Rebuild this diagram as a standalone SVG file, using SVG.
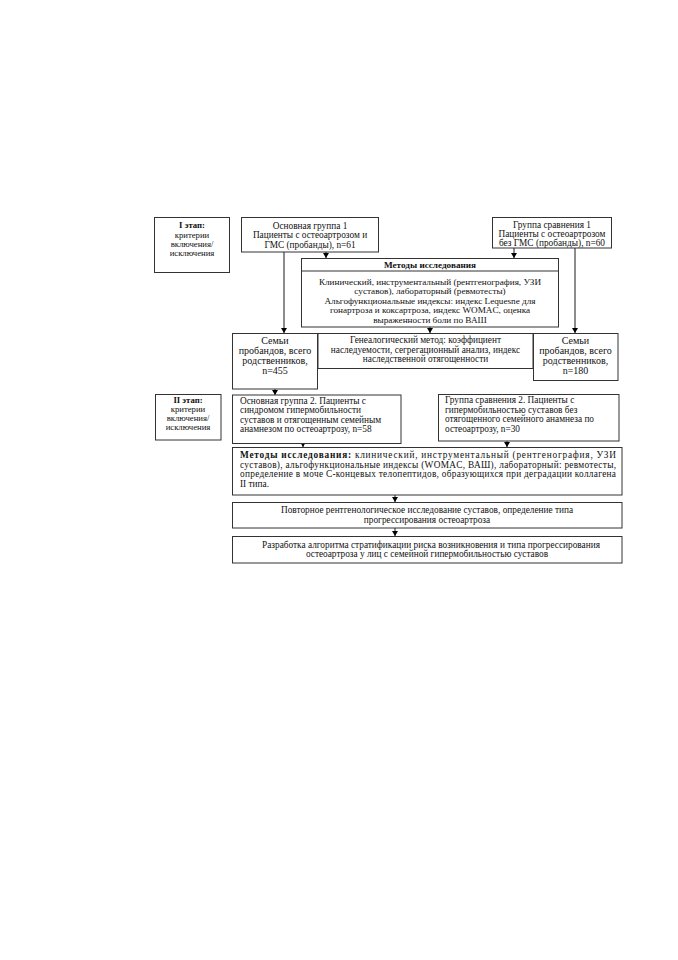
<svg xmlns="http://www.w3.org/2000/svg" width="678" height="960" viewBox="0 0 678 960">
<defs>
<marker id="ah" markerUnits="userSpaceOnUse" markerWidth="6" markerHeight="6" refX="5" refY="3" orient="auto">
<path d="M0,0 L5,3 L0,6 Z" fill="#000"/>
</marker>
<style>
.b{fill:#fff;stroke:#333;stroke-width:1}
.t{font-family:"Liberation Serif","Times New Roman",serif;font-size:9.3px;fill:#111}
.s{font-size:8.7px}
.m{font-size:9.2px}
.f{font-size:10px}
.c{text-anchor:middle}
.bold{font-weight:bold}
.ln{stroke:#000;stroke-width:0.9;fill:none;marker-end:url(#ah)}
</style>
</defs>
<rect width="678" height="960" fill="#fff"/>

<g id="connectors">
<line class="ln" x1="284" y1="252" x2="284" y2="333"/>
<line class="ln" x1="326" y1="252" x2="326" y2="258"/>
<line class="ln" x1="514" y1="248" x2="514" y2="258"/>
<line class="ln" x1="575" y1="248" x2="575" y2="333"/>
<line class="ln" x1="430" y1="327" x2="430" y2="333"/>
<line class="ln" x1="275" y1="389" x2="275" y2="395"/>
<line class="ln" x1="303" y1="443" x2="303" y2="447"/>
<line class="ln" x1="507" y1="441" x2="507" y2="447"/>
<line class="ln" x1="395" y1="495" x2="395" y2="502"/>
<line class="ln" x1="395" y1="528" x2="395" y2="536"/>
</g>

<g id="stage1">
<rect class="b" x="154.5" y="217.5" width="75" height="55"/>
<text class="t s c bold" x="192" y="228">I этап:</text>
<text class="t s c" x="192" y="238">критерии</text>
<text class="t s c" x="192" y="247">включения/</text>
<text class="t s c" x="192" y="256">исключения</text>
</g>

<g id="main1">
<rect class="b" x="241.5" y="217.5" width="137" height="34.5"/>
<text class="t c" x="310" y="228.5">Основная группа 1</text>
<text class="t c" x="310" y="238">Пациенты с остеоартрозом и</text>
<text class="t c" x="310" y="247.5">ГМС (пробанды), n=61</text>
</g>

<g id="comp1">
<rect class="b" x="492.5" y="217.5" width="119" height="30.5"/>
<text class="t c" x="552" y="227.5">Группа сравнения 1</text>
<text class="t c" x="552" y="236.5">Пациенты с остеоартрозом</text>
<text class="t c" x="552" y="245.5">без ГМС (пробанды), n=60</text>
</g>

<g id="methods1">
<rect class="b" x="301.5" y="258.5" width="257" height="68.5"/>
<line x1="301.5" y1="271" x2="558.5" y2="271" stroke="#333" stroke-width="1"/>
<text class="t m c bold" x="430" y="268">Методы исследования</text>
<text class="t m c" x="430" y="284.5">Клинический, инструментальный (рентгенография, УЗИ</text>
<text class="t m c" x="430" y="294">суставов), лабораторный (ревмотесты)</text>
<text class="t m c" x="430" y="303.5">Альгофункциональные индексы: индекс Lequesne для</text>
<text class="t m c" x="430" y="313">гонартроза и коксартроза, индекс WOMAC, оценка</text>
<text class="t m c" x="430" y="322.5">выраженности боли по ВАШ</text>
</g>

<g id="genealog">
<rect class="b" x="318" y="333.5" width="215" height="35"/>
<text class="t c" x="425.5" y="343">Генеалогический метод: коэффициент</text>
<text class="t c" x="425.5" y="352.5">наследуемости, сегрегационный анализ, индекс</text>
<text class="t c" x="425.5" y="362">наследственной отягощенности</text>
</g>

<g id="families1">
<rect class="b" x="232.5" y="333.5" width="85" height="55.5"/>
<text class="t f c" x="275" y="344">Семьи</text>
<text class="t f c" x="275" y="354">пробандов, всего</text>
<text class="t f c" x="275" y="364">родственников,</text>
<text class="t f c" x="275" y="374">n=455</text>
</g>

<g id="families2">
<rect class="b" x="533.5" y="333.5" width="84.5" height="47"/>
<text class="t f c" x="575.5" y="344">Семьи</text>
<text class="t f c" x="575.5" y="354">пробандов, всего</text>
<text class="t f c" x="575.5" y="364">родственников,</text>
<text class="t f c" x="575.5" y="374">n=180</text>
</g>

<g id="stage2">
<rect class="b" x="155.5" y="394.5" width="65.5" height="45.5"/>
<text class="t s c bold" x="188" y="403">II этап:</text>
<text class="t s c" x="188" y="412">критерии</text>
<text class="t s c" x="188" y="421">включения/</text>
<text class="t s c" x="188" y="430">исключения</text>
</g>

<g id="main2">
<rect class="b" x="232.5" y="395" width="168.5" height="48.5"/>
<text class="t" x="240" y="403.5">Основная группа 2. Пациенты с</text>
<text class="t" x="240" y="413">синдромом гипермобильности</text>
<text class="t" x="240" y="422.5">суставов и отягощенным семейным</text>
<text class="t" x="240" y="432">анамнезом по остеоартрозу, n=58</text>
</g>

<g id="comp2">
<rect class="b" x="438.5" y="394.5" width="180.5" height="46.5"/>
<text class="t" x="445" y="403">Группа сравнения 2. Пациенты с</text>
<text class="t" x="445" y="412.5">гипермобильностью суставов без</text>
<text class="t" x="445" y="422">отягощенного семейного анамнеза по</text>
<text class="t" x="445" y="431.5">остеоартрозу, n=30</text>
</g>

<g id="methods2">
<rect class="b" x="232.5" y="447.5" width="389.5" height="47.5"/>
<text class="t" x="240" y="458" textLength="376" lengthAdjust="spacing"><tspan class="bold">Методы исследования:</tspan> клинический, инструментальный (рентгенография, УЗИ</text>
<text class="t" x="240" y="467.5" textLength="376" lengthAdjust="spacing">суставов), альгофункциональные индексы (WOMAC, ВАШ), лабораторный: ревмотесты,</text>
<text class="t" x="240" y="477" textLength="376" lengthAdjust="spacing">определение в моче С-концевых телопептидов, образующихся при деградации коллагена</text>
<text class="t" x="240" y="486.5">II типа.</text>
</g>

<g id="xray">
<rect class="b" x="232.5" y="502.5" width="389.5" height="25.5"/>
<text class="t c" x="427" y="513">Повторное рентгенологическое исследование суставов, определение типа</text>
<text class="t c" x="427" y="522.5">прогрессирования остеоартроза</text>
</g>

<g id="algorithm">
<rect class="b" x="232.5" y="536.5" width="389.5" height="26.5"/>
<text class="t c" x="431" y="547.5">Разработка алгоритма стратификации риска возникновения и типа прогрессирования</text>
<text class="t c" x="427" y="557">остеоартроза у лиц с семейной гипермобильностью суставов</text>
</g>
</svg>
